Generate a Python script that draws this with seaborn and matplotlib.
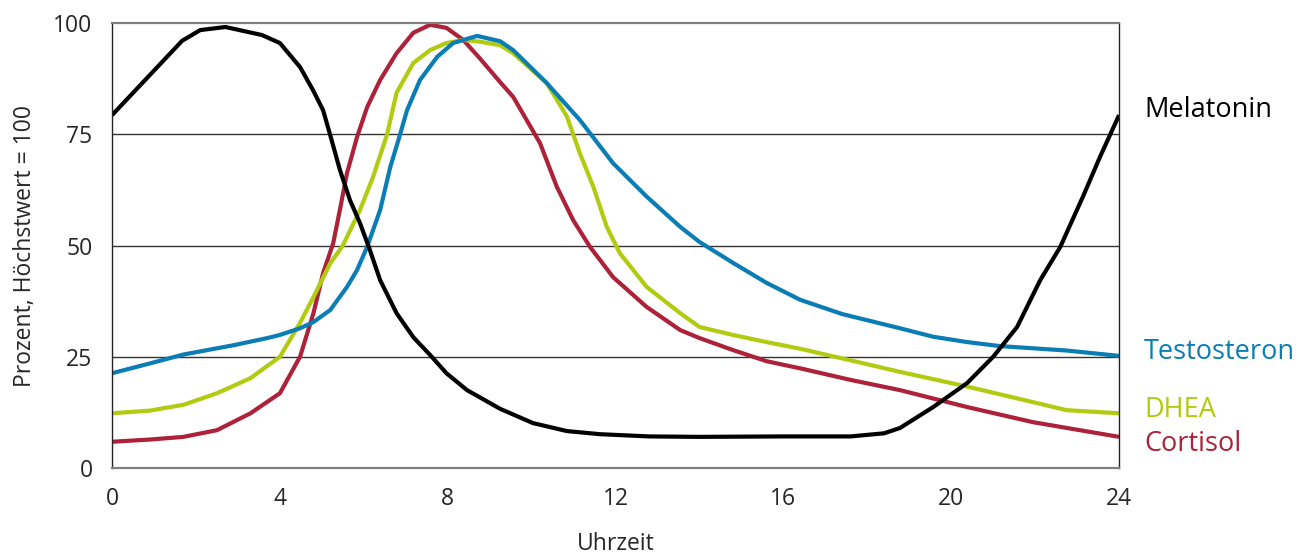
import numpy as np
import pandas as pd
import matplotlib.pyplot as plt
import seaborn as sns

# values (hour of day, percent of peak)
mela_h = [0, 1.67, 2.1, 2.7, 3.57, 4.0, 4.48, 4.79, 5.03, 5.2, 5.43, 5.67, 5.91, 6.13,
          6.39, 6.78, 7.18, 7.58, 7.97, 8.46, 9.25, 10.03, 10.84, 11.63, 12.8, 14.0,
          16.0, 17.6, 18.4, 18.78, 19.57, 20.38, 21.0, 21.57, 22.12, 22.6, 23.14, 23.55, 24]
mela_v = [79.3, 96.0, 98.4, 99.1, 97.3, 95.5, 90.1, 84.9, 80.4, 74.8, 67, 60.2, 55, 49.4,
          42.2, 34.8, 29.4, 25.4, 21.3, 17.5, 13.3, 10.1, 8.3, 7.6, 7.1, 7.0,
          7.1, 7.1, 7.8, 9, 13.7, 19.1, 25, 31.7, 42.2, 49.7, 61, 70, 79.3]

testo_h = [0, 0.9, 1.7, 2.9, 3.7, 4.0, 4.48, 4.8, 5.2, 5.6, 5.84, 6.08, 6.39, 6.63, 6.86,
           7.03, 7.34, 7.75, 8.13, 8.7, 9.25, 9.56, 10.36, 11.15, 11.94, 12.74, 13.54,
           14.0, 14.8, 15.6, 16.4, 17.4, 18.78, 19.57, 20.38, 21.16, 22.75, 24]
testo_v = [21.3, 23.5, 25.5, 27.6, 29.2, 29.9, 31.4, 32.8, 35.5, 40.7, 44.5, 49.7, 58, 67.6, 74.8,
           80.4, 87.2, 92.4, 95.5, 97.1, 95.9, 93.9, 86.5, 78.2, 68.5, 61, 54.2,
           50.8, 46.1, 41.6, 37.8, 34.6, 31.4, 29.5, 28.3, 27.4, 26.4, 25.2]

dhea_h = [0, 0.9, 1.7, 2.5, 3.3, 4.0, 4.48, 4.8, 5.2, 5.5, 5.91, 6.22, 6.55, 6.78,
          7.18, 7.58, 7.97, 8.37, 8.77, 9.25, 9.56, 10.36, 10.84, 11.15, 11.47, 11.79,
          12.1, 12.74, 13.54, 14.0, 14.8, 15.6, 16.4, 17.6, 18.78, 20.38, 21.95, 22.75, 24]
dhea_v = [12.3, 12.9, 14.2, 16.8, 20.2, 25, 32.6, 38.4, 46, 50, 58, 65.4, 74.8, 84.3,
          91, 93.9, 95.5, 96.2, 95.8, 95, 93.2, 86.5, 79, 70.7, 63.2, 54.2,
          48.3, 40.7, 34.8, 31.7, 29.9, 28.3, 26.8, 24.2, 21.6, 18.3, 14.8, 13, 12.3]

cort_h = [0, 0.9, 1.7, 2.5, 3.3, 4.0, 4.48, 4.8, 5.03, 5.27, 5.43, 5.6, 5.84, 6.08,
          6.39, 6.78, 7.18, 7.58, 7.97, 8.37, 8.77, 9.25, 9.56, 10.2, 10.6, 10.99, 11.39,
          11.94, 12.74, 13.54, 14.0, 14.8, 15.6, 16.4, 17.6, 18.78, 20.38, 21.95, 24]
cort_v = [5.9, 6.4, 7, 8.5, 12.3, 16.8, 25, 34.8, 43.8, 50.5, 58, 66.3, 74.4, 81.1,
          87.2, 93.2, 97.8, 99.6, 98.9, 96.2, 92, 86.7, 83.4, 73, 63.2, 55.7, 49.7,
          42.9, 36.2, 31, 29.2, 26.5, 24, 22.4, 19.8, 17.5, 13.7, 10.3, 7]

names = ["Melatonin", "Testosteron", "DHEA", "Cortisol"]
colors = ["#000000", "#0a7db5", "#b1cb10", "#ad2139"]
label_y = [80.5, 26, 13, 5.4]

frames = []
for name, h, v in zip(names, [mela_h, testo_h, dhea_h, cort_h],
                      [mela_v, testo_v, dhea_v, cort_v]):
    frames.append(pd.DataFrame({"Uhrzeit": h, "Wert": v, "Hormon": name}))
df = pd.concat(frames, ignore_index=True)

sns.set_style("white")
plt.rcParams['font.family'] = ['Open Sans', 'DejaVu Sans']

fig = plt.figure(figsize=(13.09, 5.54), dpi=100)
ax = fig.add_axes([0.0856, 0.1552, 0.7693, 0.8033])

sns.lineplot(data=df, x="Uhrzeit", y="Wert", hue="Hormon", palette=dict(zip(names, colors)),
             hue_order=names[::-1], linewidth=3, legend=False, ax=ax, sort=True,
             solid_joinstyle="round", solid_capstyle="butt")

ax.set_xlim(0, 24)
ax.set_ylim(0, 100)
ax.set_xticks([0, 4, 8, 12, 16, 20, 24])
ax.set_yticks([0, 25, 50, 75, 100])
ax.tick_params(axis="both", length=0, labelsize=16.5, pad=14)
for y in [25, 50, 75]:
    ax.axhline(y, color="#333333", linewidth=1, zorder=0)

for side in ["top", "bottom"]:
    ax.spines[side].set_color("#808080")
    ax.spines[side].set_linewidth(1.6)
for side in ["left", "right"]:
    ax.spines[side].set_color("#222222")
    ax.spines[side].set_linewidth(1)

ax.set_xlabel("Uhrzeit", fontsize=16.5, labelpad=15)
ax.set_ylabel("Prozent, Höchstwert = 100", fontsize=16.5, labelpad=12)

for name, c, ly in zip(names, colors, label_y):
    ax.text(24.6, ly, name, color=c, fontsize=19.5, va="center", ha="left", clip_on=False)

fig.savefig("out.png", dpi=100)
